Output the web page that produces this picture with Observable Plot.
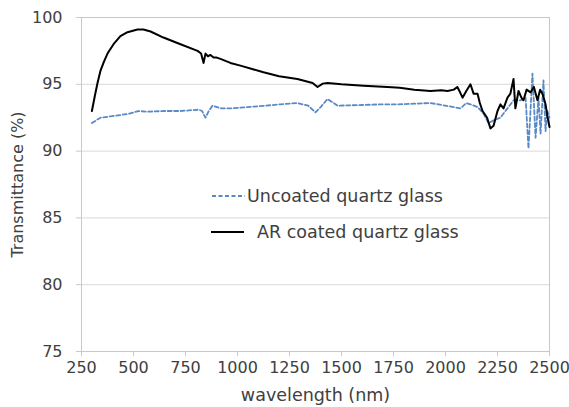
<!DOCTYPE html>
<html>
<head>
<meta charset="utf-8">
<script src="https://cdn.jsdelivr.net/npm/d3@7"></script>
<script src="https://cdn.jsdelivr.net/npm/@observablehq/plot@0.6"></script>
<style>
  body { margin: 0; background: #fff; }
  #wrap { position: relative; width: 569px; height: 407px; font-family: "DejaVu Sans", sans-serif; }
  .leg { position: absolute; display: flex; align-items: center; font-size: 17.5px; line-height: 24px; color: #404040; white-space: nowrap; }
  .leg svg { display: block; }
</style>
</head>
<body>
<div id="wrap"></div>
<script>
// AR coated quartz glass
const arWavelength = [300,315,327,341,358,375,404,437,471,519,548,582,644,726,808,825,837,846,858,870,885,900,918,966,1014,1125,1200,1288,1361,1385,1410,1433,1500,1606,1721,1780,1850,1928,1980,2010,2040,2057,2070,2082,2100,2120,2135,2154,2165,2178,2200,2216,2231,2250,2264,2279,2298,2312,2327,2336,2351,2365,2375,2390,2409,2425,2442,2455,2466,2481,2490,2500];
const arValue = [93.0,94.2,95.1,96.0,96.7,97.3,98.0,98.6,98.9,99.1,99.1,98.95,98.5,98.0,97.5,97.3,96.6,97.3,97.1,97.2,97.0,97.0,96.9,96.6,96.4,95.9,95.6,95.4,95.1,94.8,95.05,95.1,95.0,94.9,94.8,94.75,94.6,94.5,94.55,94.5,94.6,94.8,94.4,94.0,94.5,95.0,94.3,94.3,93.6,93.0,92.5,91.7,91.9,93.0,93.5,93.2,94.0,94.3,95.4,93.2,94.5,94.0,93.8,94.6,94.4,94.8,93.8,94.6,94.3,93.5,92.6,91.8];

// Uncoated quartz glass
const unWavelength = [300,341,390,437,480,524,567,650,726,812,830,846,862,880,918,966,1014,1100,1207,1288,1340,1375,1400,1433,1481,1600,1688,1769,1850,1928,2000,2072,2100,2120,2154,2183,2207,2231,2264,2298,2327,2360,2385,2399,2418,2433,2447,2457,2471,2481,2490,2500];
const unValue = [92.1,92.5,92.6,92.7,92.8,93.0,92.95,93.0,93.0,93.1,93.0,92.5,93.0,93.4,93.2,93.2,93.25,93.35,93.5,93.6,93.4,92.9,93.3,93.9,93.4,93.45,93.5,93.5,93.55,93.6,93.4,93.2,93.6,93.5,93.3,92.8,92.1,92.3,92.5,93.2,93.8,93.8,94.0,90.2,95.8,91.0,94.0,91.3,95.3,91.5,93.0,92.5];

const xTicks = [250,500,750,1000,1250,1500,1750,2000,2250,2500];
const yTicks = [75,80,85,90,95,100];
const seriesNames = ["Uncoated quartz glass", "AR coated quartz glass"];
const seriesColors = ["#5a8ac6", "#000000"];

const ar = arWavelength.map((w, i) => ({w, t: arValue[i]}));
const un = unWavelength.map((w, i) => ({w, t: unValue[i]}));

const textColor = "#404040";
const chart = Plot.plot({
  width: 569,
  height: 407,
  marginLeft: 81,
  marginRight: 20,
  marginTop: 17,
  marginBottom: 56,
  style: {fontFamily: "DejaVu Sans, sans-serif", fontSize: "16px", color: textColor, background: "#fff"},
  x: {domain: [250, 2500]},
  y: {domain: [75, 100]},
  marks: [
    Plot.gridY(yTicks, {stroke: "#d9d9d9", strokeOpacity: 1, strokeWidth: 1}),
    Plot.frame({stroke: "#c8c8c8"}),
    Plot.axisX(xTicks, {label: null, tickSize: 5, tickPadding: 5, stroke: "#c8c8c8", fill: textColor, tickFormat: d => String(d), fontSize: 16}),
    Plot.axisX({ticks: [], label: "wavelength (nm)", labelAnchor: "center", labelArrow: "none", labelOffset: 49, fontSize: 17.5, fill: textColor}),
    Plot.axisY(yTicks, {label: null, tickSize: 5, tickPadding: 14, stroke: "#c8c8c8", fill: textColor, tickFormat: d => String(d), fontSize: 16}),
    Plot.axisY({ticks: [], label: "Transmittance (%)", labelAnchor: "center", labelArrow: "none", labelOffset: 70, fontSize: 16, fill: textColor}),
    Plot.line(un, {x: "w", y: "t", stroke: seriesColors[0], strokeWidth: 1.8, strokeDasharray: "4,2.5"}),
    Plot.line(ar, {x: "w", y: "t", stroke: seriesColors[1], strokeWidth: 2})
  ]
});
const wrap = document.getElementById("wrap");
wrap.appendChild(chart);

function legendRow(i, left, top, textLeft) {
  const d = document.createElement("div");
  d.className = "leg";
  d.style.left = left + "px";
  d.style.top = top + "px";
  const dash = i === 0 ? "4,2.5" : "none";
  d.innerHTML = `<svg width="${textLeft}" height="10"><line x1="0" x2="33" y1="5" y2="5" stroke="${seriesColors[i]}" stroke-width="2" stroke-dasharray="${dash}"/></svg><span>${seriesNames[i]}</span>`;
  wrap.appendChild(d);
}
legendRow(0, 212, 184, 35);
legendRow(1, 211, 220, 46);
</script>
</body>
</html>
